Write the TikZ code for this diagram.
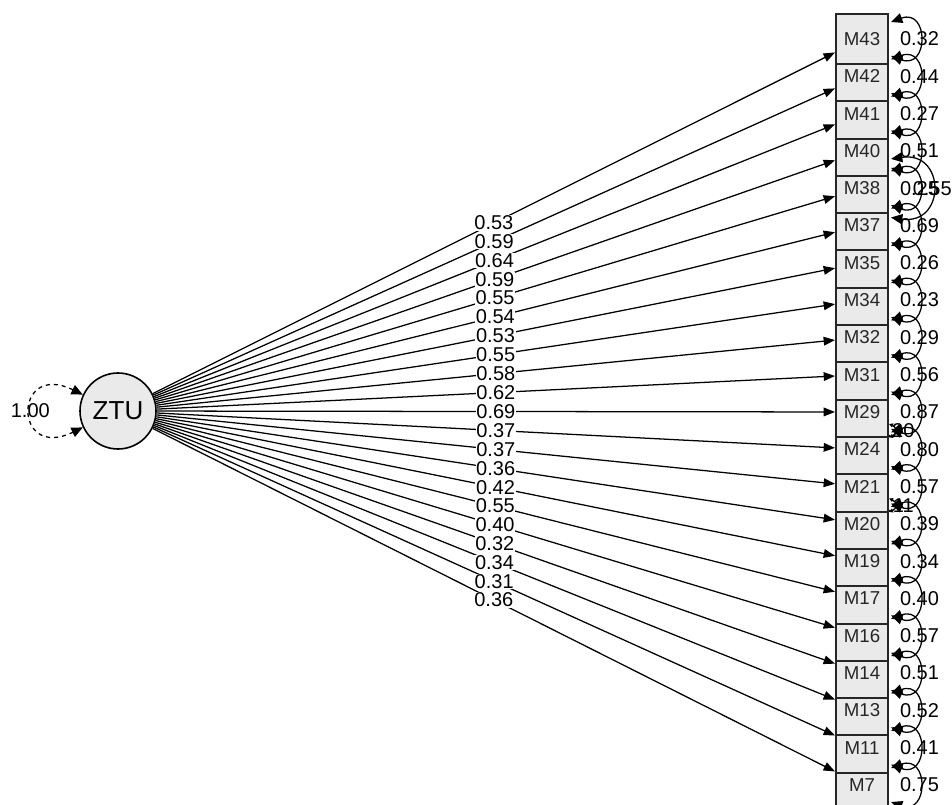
\documentclass[tikz,border=0pt]{standalone}
\usepackage{fontspec}
\setmainfont{Liberation Sans}
\usetikzlibrary{arrows.meta,calc}
\pgfdeclarelayer{front}
\pgfsetlayers{main,front}
\definecolor{boxgray}{RGB}{234,234,234}
\tikzset{every picture/.style={line width=0.75pt}}
\tikzset{
	itembox/.style={draw=black!85, fill=boxgray, line width=1.5pt, minimum width=39pt, minimum height=37.5pt, inner sep=0pt, text=black!85, font=\fontsize{14}{14}\selectfont},
	latent/.style={circle, draw=black, fill=boxgray, line width=1.2pt, minimum size=57pt, inner sep=0pt, font=\fontsize{19.5}{20}\selectfont},
	loading/.style={-{Triangle[length=8.5pt,width=6.5pt]}, line width=0.95pt},
	resvar/.style={{Triangle[length=8.5pt,width=7.5pt]}-{Triangle[length=8.5pt,width=7.5pt]}, line width=0.95pt},
	rescov/.style={{Triangle[length=3pt,width=3pt]}-{Triangle[length=3pt,width=3pt]}, line width=0.95pt},
	lbl/.style={font=\fontsize{15}{15}\selectfont, inner sep=0pt},
	wlbl/.style={lbl, fill=white, inner sep=0.5pt}
}

\begin{document}
\begin{tikzpicture}[x=0.75pt,y=0.75pt,yscale=-1]
	\useasboundingbox (0,0) rectangle (952,805);

	\begin{pgfonlayer}{front}
	%Shape: Circle
	\node[latent] (ztu) at (118,411) {ZTU};
	%Shape: Rectangle (lower boxes first, upper ones lie over them)
	\node[itembox] (m7) at (862,785) {M7};
	\node[itembox] (m11) at (862,747.7) {M11};
	\node[itembox] (m13) at (862,710.4) {M13};
	\node[itembox] (m14) at (862,673.1) {M14};
	\node[itembox] (m16) at (862,635.8) {M16};
	\node[itembox] (m17) at (862,598.5) {M17};
	\node[itembox] (m19) at (862,561.2) {M19};
	\node[itembox] (m20) at (862,523.9) {M20};
	\node[itembox] (m21) at (862,486.6) {M21};
	\node[itembox] (m24) at (862,449.3) {M24};
	\node[itembox] (m29) at (862,412) {M29};
	\node[itembox] (m31) at (862,374.7) {M31};
	\node[itembox] (m32) at (862,337.4) {M32};
	\node[itembox] (m34) at (862,300.1) {M34};
	\node[itembox] (m35) at (862,262.8) {M35};
	\node[itembox] (m37) at (862,225.5) {M37};
	\node[itembox] (m38) at (862,188.2) {M38};
	\node[itembox] (m40) at (862,150.9) {M40};
	\node[itembox] (m41) at (862,113.6) {M41};
	\node[itembox] (m42) at (862,76.3) {M42};
	\node[itembox] (m43) at (862,39) {M43};
	\end{pgfonlayer}

	%Curve Lines: variance of ZTU
	\draw[resvar, dashed] (ztu.155) .. controls +(-70,-34) and +(-70,34) .. node[lbl] (vz) {1.00} (ztu.205);

	%Straight Lines: loadings
	\draw[loading] (ztu) -- node[wlbl] (l43) {0.53} (m43);
	\draw[loading] (ztu) -- node[wlbl] (l42) {0.59} (m42);
	\draw[loading] (ztu) -- node[wlbl] (l41) {0.64} (m41);
	\draw[loading] (ztu) -- node[wlbl] (l40) {0.59} (m40);
	\draw[loading] (ztu) -- node[wlbl] (l38) {0.55} (m38);
	\draw[loading] (ztu) -- node[wlbl] (l37) {0.54} (m37);
	\draw[loading] (ztu) -- node[wlbl] (l35) {0.53} (m35);
	\draw[loading] (ztu) -- node[wlbl] (l34) {0.55} (m34);
	\draw[loading] (ztu) -- node[wlbl] (l32) {0.58} (m32);
	\draw[loading] (ztu) -- node[wlbl] (l31) {0.62} (m31);
	\draw[loading] (ztu) -- node[wlbl] (l29) {0.69} (m29);
	\draw[loading] (ztu) -- node[wlbl] (l24) {0.37} (m24);
	\draw[loading] (ztu) -- node[wlbl] (l21) {0.37} (m21);
	\draw[loading] (ztu) -- node[wlbl] (l20) {0.36} (m20);
	\draw[loading] (ztu) -- node[wlbl] (l19) {0.42} (m19);
	\draw[loading] (ztu) -- node[wlbl] (l17) {0.55} (m17);
	\draw[loading] (ztu) -- node[wlbl] (l16) {0.40} (m16);
	\draw[loading] (ztu) -- node[wlbl] (l14) {0.32} (m14);
	\draw[loading] (ztu) -- node[wlbl] (l13) {0.34} (m13);
	\draw[loading] (ztu) -- node[wlbl] (l11) {0.31} (m11);
	\draw[loading] (ztu) -- node[wlbl] (l7) {0.36} (m7);

	%Curve Lines: residual variances
	\draw[resvar] ($(m43.east)+(2,-17)$) .. controls +(38,-14) and +(38,14) .. node[lbl] (v43) {0.32} ($(m43.east)+(2,17)$);
	\draw[resvar] ($(m42.east)+(2,-17)$) .. controls +(38,-14) and +(38,14) .. node[lbl] (v42) {0.44} ($(m42.east)+(2,17)$);
	\draw[resvar] ($(m41.east)+(2,-17)$) .. controls +(38,-14) and +(38,14) .. node[lbl] (v41) {0.27} ($(m41.east)+(2,17)$);
	\draw[resvar] ($(m40.east)+(2,-17)$) .. controls +(38,-14) and +(38,14) .. node[lbl] (v40) {0.51} ($(m40.east)+(2,17)$);
	\draw[resvar] ($(m38.east)+(2,-17)$) .. controls +(38,-14) and +(38,14) .. node[lbl] (v38) {0.25} ($(m38.east)+(2,17)$);
	\draw[resvar] ($(m37.east)+(2,-17)$) .. controls +(38,-14) and +(38,14) .. node[lbl] (v37) {0.69} ($(m37.east)+(2,17)$);
	\draw[resvar] ($(m35.east)+(2,-17)$) .. controls +(38,-14) and +(38,14) .. node[lbl] (v35) {0.26} ($(m35.east)+(2,17)$);
	\draw[resvar] ($(m34.east)+(2,-17)$) .. controls +(38,-14) and +(38,14) .. node[lbl] (v34) {0.23} ($(m34.east)+(2,17)$);
	\draw[resvar] ($(m32.east)+(2,-17)$) .. controls +(38,-14) and +(38,14) .. node[lbl] (v32) {0.29} ($(m32.east)+(2,17)$);
	\draw[resvar] ($(m31.east)+(2,-17)$) .. controls +(38,-14) and +(38,14) .. node[lbl] (v31) {0.56} ($(m31.east)+(2,17)$);
	\draw[resvar] ($(m29.east)+(2,-17)$) .. controls +(38,-14) and +(38,14) .. node[lbl] (v29) {0.87} ($(m29.east)+(2,17)$);
	\draw[resvar] ($(m24.east)+(2,-17)$) .. controls +(38,-14) and +(38,14) .. node[lbl] (v24) {0.80} ($(m24.east)+(2,17)$);
	\draw[resvar] ($(m21.east)+(2,-17)$) .. controls +(38,-14) and +(38,14) .. node[lbl] (v21) {0.57} ($(m21.east)+(2,17)$);
	\draw[resvar] ($(m20.east)+(2,-17)$) .. controls +(38,-14) and +(38,14) .. node[lbl] (v20) {0.39} ($(m20.east)+(2,17)$);
	\draw[resvar] ($(m19.east)+(2,-17)$) .. controls +(38,-14) and +(38,14) .. node[lbl] (v19) {0.34} ($(m19.east)+(2,17)$);
	\draw[resvar] ($(m17.east)+(2,-17)$) .. controls +(38,-14) and +(38,14) .. node[lbl] (v17) {0.40} ($(m17.east)+(2,17)$);
	\draw[resvar] ($(m16.east)+(2,-17)$) .. controls +(38,-14) and +(38,14) .. node[lbl] (v16) {0.57} ($(m16.east)+(2,17)$);
	\draw[resvar] ($(m14.east)+(2,-17)$) .. controls +(38,-14) and +(38,14) .. node[lbl] (v14) {0.51} ($(m14.east)+(2,17)$);
	\draw[resvar] ($(m13.east)+(2,-17)$) .. controls +(38,-14) and +(38,14) .. node[lbl] (v13) {0.52} ($(m13.east)+(2,17)$);
	\draw[resvar] ($(m11.east)+(2,-17)$) .. controls +(38,-14) and +(38,14) .. node[lbl] (v11) {0.41} ($(m11.east)+(2,17)$);
	\draw[resvar] ($(m7.east)+(2,-17)$) .. controls +(38,-14) and +(38,14) .. node[lbl] (v7) {0.75} ($(m7.east)+(2,17)$);

	%Curve Lines: residual covariances
	\draw[resvar] ($(m40.east)+(2,8)$) .. controls +(55,-8) and +(55,8) .. node[lbl] (c40) {0.55} ($(m37.east)+(2,-8)$);
	\draw[rescov] ($(m29.east)+(0,12)$) .. controls +(8,3) and +(8,-3) .. node[lbl] (c29) {0.20} ($(m24.east)+(0,-12)$);
	\draw[rescov] ($(m21.east)+(0,12)$) .. controls +(8,3) and +(8,-3) .. node[lbl] (c21) {0.11} ($(m20.east)+(0,-12)$);

\end{tikzpicture}
\end{document}
